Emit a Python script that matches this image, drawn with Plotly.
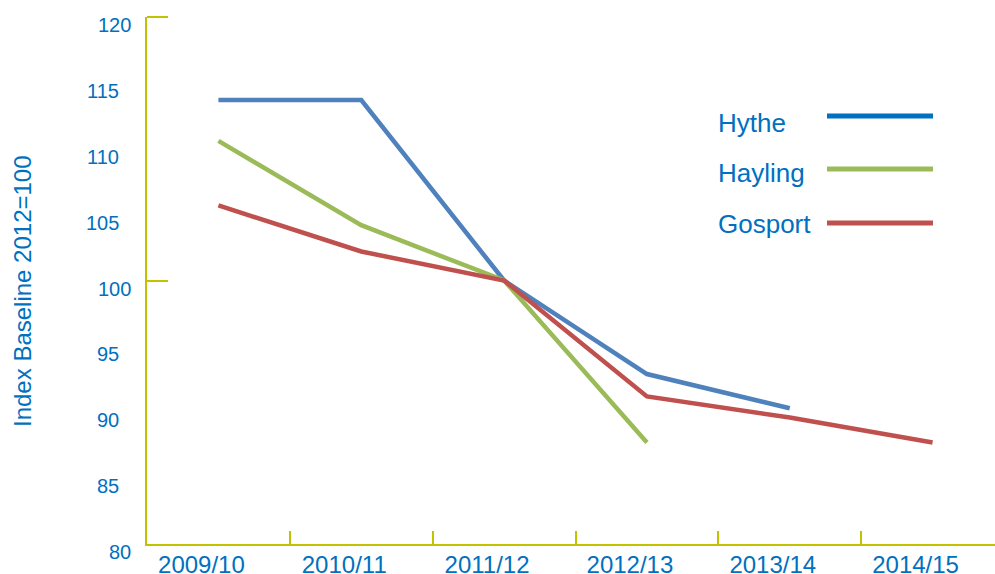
import plotly.graph_objects as go

categories = ["2009/10", "2010/11", "2011/12", "2012/13", "2013/14", "2014/15"]
hythe = [113.7, 113.7, 100.0, 92.9, 90.3]
hayling = [110.6, 104.2, 100.0, 87.7]
gosport = [105.7, 102.2, 100.0, 91.2, 89.6, 87.7]

series_names = ["Hythe", "Hayling", "Gosport"]
series_values = [hythe, hayling, gosport]
line_colors = ["#4F81BD", "#9BBB59", "#C0504D"]
legend_colors = ["#0070C0", "#9BBB59", "#C0504D"]

y_tick_labels = [80, 85, 90, 95, 100, 105, 110, 115, 120]
y_major_ticks = [80, 100, 120]
y_title = "Index Baseline 2012=100"

TEXT = "#0070C0"
AXIS = "#C2C200"
FONT = "Liberation Sans, Arial, Helvetica, sans-serif"

W, H = 995, 574
L, R, T, B = 147, 0, 17, 30
pw, ph = W - L - R, H - T - B

fig = go.Figure()
for name, vals, col in zip(series_names, series_values, line_colors):
    fig.add_trace(go.Scatter(
        x=categories[:len(vals)], y=vals, mode="lines", name=name,
        line=dict(color=col, width=4.5), cliponaxis=False, showlegend=False,
        hoverinfo="skip",
    ))

annotations = []
for v in y_tick_labels:
    annotations.append(dict(
        x=0, xref="paper", y=v, yref="y", text=str(v), showarrow=False,
        xanchor="right", yanchor="middle",
        xshift=-14 if v in y_major_ticks else -26, yshift=-8,
        font=dict(family=FONT, size=20, color=TEXT),
    ))

annotations.append(dict(
    x=(22 - L) / pw, xref="paper", y=(H - B - 291) / ph, yref="paper",
    text=y_title, textangle=-90, showarrow=False,
    xanchor="center", yanchor="middle",
    font=dict(family=FONT, size=24, color=TEXT),
))

def px_x(p):
    return (p - L) / pw

def px_y(p):
    return (H - B - p) / ph

legend_text_y = [123, 173, 224]
legend_line_y = [116, 169, 223]
shapes = []
for name, col, ty, ly in zip(series_names, legend_colors, legend_text_y, legend_line_y):
    annotations.append(dict(
        x=px_x(716), xref="paper", y=px_y(ty), yref="paper", text=name,
        showarrow=False, xanchor="left", yanchor="middle",
        font=dict(family=FONT, size=26, color=TEXT),
    ))
    shapes.append(dict(
        type="line", xref="paper", yref="paper",
        x0=px_x(827), x1=px_x(933), y0=px_y(ly), y1=px_y(ly),
        line=dict(color=col, width=5),
    ))

# top major tick (at the very edge of the axis, which plotly omits)
shapes.append(dict(
    type="line", xref="paper", yref="paper",
    x0=0, x1=21 / pw, y0=1, y1=1,
    line=dict(color=AXIS, width=2),
))

fig.update_layout(
    width=W, height=H,
    margin=dict(l=L, r=R, t=T, b=B, pad=0, autoexpand=False),
    paper_bgcolor="white", plot_bgcolor="white",
    showlegend=False, hovermode=False,
    annotations=annotations, shapes=shapes,
    xaxis=dict(
        type="category", range=[-0.5, 5.437], automargin=False,
        showline=True, linecolor=AXIS, linewidth=2,
        ticks="inside", tickson="boundaries", ticklen=13, tickwidth=2, tickcolor=AXIS,
        showgrid=False, zeroline=False,
        tickfont=dict(family=FONT, size=24, color=TEXT),
        ticklabelshift=-17, ticklabelstandoff=-2,
        fixedrange=True,
    ),
    yaxis=dict(
        range=[80, 120], automargin=False,
        showline=True, linecolor=AXIS, linewidth=2,
        tickmode="array", tickvals=y_major_ticks,
        ticks="inside", ticklen=21, tickwidth=2, tickcolor=AXIS,
        showticklabels=False, showgrid=False, zeroline=False,
        fixedrange=True,
    ),
)

fig.write_html(
    "out.html",
    config={"displayModeBar": False, "staticPlot": True},
    post_script="document.body.style.margin='0';document.body.style.overflow='hidden';",
)
